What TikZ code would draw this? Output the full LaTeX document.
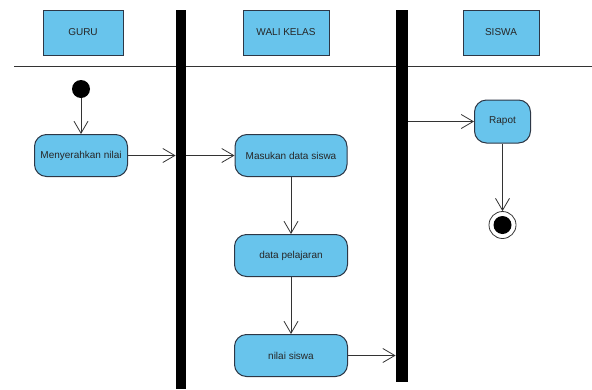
\documentclass[tikz,border=0pt]{standalone}
\usepackage{fontspec}
\setmainfont{Liberation Sans}
\usetikzlibrary{arrows.meta,positioning}
\definecolor{lane}{RGB}{104,196,236}
\definecolor{rim}{RGB}{45,55,70}
\tikzset{->, % makes the edges directed
>={Straight Barb[length=12pt,width=14pt]}, % open UML arrow heads
x=1pt, y=-1pt, % one unit is one pixel, y runs downwards
node distance=100pt, % distance between the activities of one lane
every node/.style={font=\fontsize{10}{12}\selectfont, text=black!85},
lanehead/.style={draw=rim, fill=lane, minimum height=45pt}, % the boxes naming each lane
activity/.style={draw=rim, line width=1pt, fill=lane, rounded corners=12pt, minimum height=42pt, minimum width=113pt},
bar/.style={fill=black, inner sep=0pt, minimum width=10pt}, % the thick lane separators
}
\begin{document}
\begin{tikzpicture}[draw=black!80, line width=0.8pt]
\useasboundingbox (0,0) rectangle (592,389);
\node[lanehead, minimum width=80pt] (guru) at (83,32.5) {GURU};
\node[lanehead, minimum width=86pt] (wali) at (286,32.5) {WALI KELAS};
\node[lanehead, minimum width=76pt] (siswa) at (501,32.5) {SISWA};
\draw[-] (14,66) -- (592,66);
\node[bar, minimum height=379pt] (bar1) at (181,199.5) {};
\node[bar, minimum width=12pt, minimum height=372pt] (bar2) at (402,196) {};
\node[circle, fill=black, minimum size=18pt, inner sep=0pt] (start) at (81,89) {};
\node[activity, minimum width=93pt] (serah) at (81,155.5) {Menyerahkan nilai};
\node[activity, minimum width=112pt] (masuk) at (291,155.5) {Masukan data siswa};
\node[activity, below of=masuk] (pelajaran) {data pelajaran};
\node[activity, below of=pelajaran] (nilai) {nilai siswa};
\node[activity, minimum width=56pt, minimum height=43pt] (rapot) at (502.5,121.5) {Rapot};
\node[circle, draw, fill=white, minimum size=27pt, inner sep=0pt,
  path picture={\fill[black] (path picture bounding box.center) circle (9pt);}] (stop) at (502.5,225) {};
\path (start) edge (serah)
(serah) edge (serah -| bar1.west)
(bar1.east |- masuk) edge (masuk)
(masuk) edge (pelajaran)
(pelajaran) edge (nilai)
(nilai) edge (nilai -| bar2.west)
(bar2.east |- rapot) edge (rapot)
(rapot) edge (stop);
\end{tikzpicture}
\end{document}
